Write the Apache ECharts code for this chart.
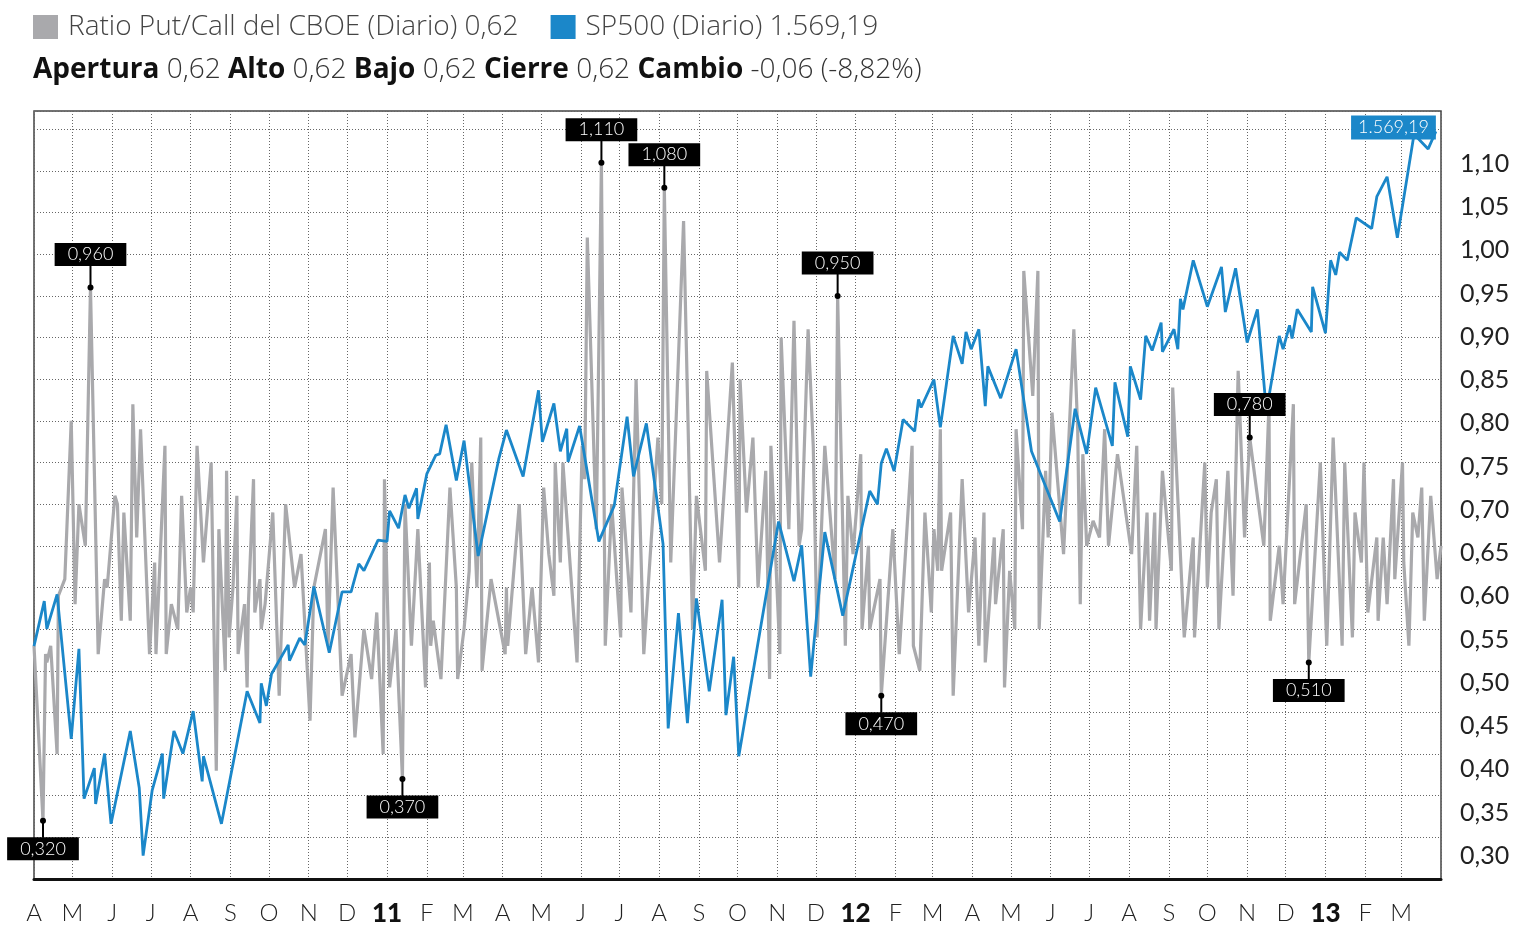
<!DOCTYPE html>
<html>
<head>
<meta charset="utf-8">
<script src="https://cdn.jsdelivr.net/npm/echarts@6/dist/echarts.min.js"></script>
<style>
html, body { margin: 0; background: #fff; }
#chart { width: 1525px; height: 927px; }
</style>
</head>
<body>
<div id="chart"></div>
<script>
// dias contados desde el 1 de abril de 2010
const inicio = new Date(2010, 3, 1).getTime();
const fin = new Date(2013, 3, 1).getTime();
const DIA = 86400000;

const mesesIniciales = ['E', 'F', 'M', 'A', 'M', 'J', 'J', 'A', 'S', 'O', 'N', 'D'];

// Ratio Put/Call del CBOE
const pcDias = [0, 7, 9, 10, 13, 18, 19, 24, 29, 32, 35, 40, 44, 50, 55, 57, 63, 65, 68, 70,
	75, 77, 80, 83, 90, 94, 95, 102, 103, 107, 112, 115, 119, 122, 124, 127, 132, 138, 142, 144,
	149, 150, 152, 155, 158, 159, 164, 166, 167, 171, 172, 176, 177, 180, 186, 191, 196, 203, 208, 215,
	218, 227, 229, 233, 240, 247, 250, 257, 263, 267, 272, 273, 277, 282, 287, 289, 294, 299, 305, 308,
	309, 311, 317, 324, 329, 330, 335, 339, 341, 345, 348, 349, 356, 367, 368, 369, 378, 383, 388, 393,
	397, 401, 405, 406, 410, 412, 423, 427, 429, 431, 438, 442, 445, 450, 457, 458, 465, 469, 475, 486,
	489, 491, 496, 506, 513, 516, 523, 524, 534, 544, 549, 550, 555, 560, 564, 570, 573, 574, 581, 582,
	588, 592, 596, 598, 603, 607, 610, 616, 624, 626, 632, 634, 638, 644, 645, 650, 651, 659, 660, 669,
	674, 684, 685, 690, 694, 699, 701, 704, 706, 707, 714, 716, 723, 728, 733, 736, 740, 741, 748, 749,
	755, 756, 760, 764, 765, 770, 771, 778, 782, 783, 788, 790, 793, 802, 810, 813, 815, 817, 820, 825,
	830, 834, 837, 844, 855, 859, 862, 867, 869, 873, 874, 879, 886, 887, 896, 903, 904, 912, 914, 917,
	921, 923, 930, 934, 938, 943, 947, 958, 962, 963, 970, 973, 981, 982, 991, 993, 1002, 1007, 1012, 1019,
	1021, 1027, 1029, 1034, 1036, 1039, 1046, 1047, 1051, 1054, 1059, 1060, 1066, 1067, 1071, 1074, 1078, 1081, 1083, 1088,
	1093, 1096];
const pcValores = [0.53, 0.32, 0.52, 0.51, 0.53, 0.40, 0.59, 0.61, 0.80, 0.58, 0.70, 0.65, 0.96, 0.52, 0.61, 0.60, 0.71, 0.70, 0.56, 0.69,
	0.56, 0.82, 0.66, 0.79, 0.52, 0.63, 0.52, 0.77, 0.52, 0.58, 0.55, 0.71, 0.57, 0.60, 0.57, 0.77, 0.63, 0.75, 0.38, 0.67,
	0.50, 0.74, 0.54, 0.60, 0.71, 0.52, 0.58, 0.48, 0.58, 0.73, 0.57, 0.61, 0.55, 0.58, 0.69, 0.47, 0.70, 0.60, 0.64, 0.44,
	0.60, 0.67, 0.53, 0.72, 0.47, 0.52, 0.42, 0.55, 0.49, 0.57, 0.40, 0.73, 0.48, 0.55, 0.37, 0.70, 0.53, 0.67, 0.48, 0.63,
	0.53, 0.56, 0.49, 0.72, 0.60, 0.49, 0.55, 0.62, 0.75, 0.60, 0.78, 0.50, 0.61, 0.52, 0.60, 0.53, 0.70, 0.52, 0.60, 0.51,
	0.72, 0.64, 0.59, 0.75, 0.63, 0.75, 0.51, 0.77, 0.73, 1.02, 0.67, 1.11, 0.53, 0.70, 0.54, 0.72, 0.57, 0.85, 0.52, 0.78,
	0.70, 1.08, 0.63, 1.04, 0.55, 0.71, 0.62, 0.86, 0.63, 0.87, 0.60, 0.85, 0.69, 0.78, 0.60, 0.74, 0.49, 0.77, 0.52, 0.90,
	0.67, 0.92, 0.65, 0.67, 0.91, 0.77, 0.54, 0.77, 0.61, 0.95, 0.53, 0.71, 0.64, 0.76, 0.55, 0.65, 0.55, 0.61, 0.47, 0.67,
	0.52, 0.77, 0.53, 0.50, 0.69, 0.57, 0.67, 0.62, 0.79, 0.62, 0.69, 0.47, 0.73, 0.57, 0.66, 0.53, 0.69, 0.51, 0.66, 0.58,
	0.67, 0.48, 0.62, 0.55, 0.79, 0.67, 0.98, 0.83, 0.98, 0.55, 0.74, 0.66, 0.81, 0.64, 0.91, 0.79, 0.58, 0.76, 0.65, 0.68,
	0.66, 0.79, 0.65, 0.76, 0.64, 0.77, 0.55, 0.69, 0.56, 0.69, 0.55, 0.74, 0.62, 0.84, 0.54, 0.66, 0.54, 0.75, 0.60, 0.69,
	0.73, 0.55, 0.74, 0.59, 0.86, 0.66, 0.78, 0.65, 0.82, 0.56, 0.65, 0.58, 0.82, 0.58, 0.70, 0.51, 0.75, 0.53, 0.78, 0.53,
	0.75, 0.54, 0.69, 0.63, 0.75, 0.57, 0.66, 0.56, 0.66, 0.58, 0.73, 0.61, 0.75, 0.63, 0.53, 0.69, 0.66, 0.72, 0.56, 0.71,
	0.61, 0.65];

// SP500
const spDias = [0, 8, 10, 18, 29, 35, 39, 47, 48, 55, 60, 75, 82, 85, 92, 100, 101, 109, 116, 124,
	131, 132, 146, 166, 176, 177, 181, 185, 198, 199, 207, 211, 218, 230, 240, 247, 253, 257, 268, 275,
	277, 284, 289, 292, 298, 299, 306, 313, 316, 321, 329, 335, 346, 362, 368, 381, 393, 396, 405, 410,
	415, 416, 425, 440, 452, 462, 467, 477, 490, 494, 502, 509, 516, 526, 536, 539, 545, 549, 580, 592,
	598, 605, 616, 630, 651, 657, 660, 664, 670, 677, 686, 689, 691, 701, 706, 716, 723, 726, 730, 736,
	741, 743, 753, 765, 777, 799, 811, 820, 827, 840, 842, 852, 854, 862, 866, 871, 878, 879, 888, 891,
	893, 895, 903, 914, 925, 928, 936, 945, 953, 960, 970, 973, 978, 980, 984, 995, 996, 1006, 1010, 1014,
	1017, 1023, 1030, 1042, 1046, 1054, 1062, 1075, 1086, 1092];
const spValores = [1181, 1215, 1194, 1220, 1111, 1179, 1066, 1089, 1062, 1100, 1047, 1117, 1074, 1023, 1072, 1100, 1066, 1117, 1100, 1132,
	1079, 1098, 1047, 1147, 1123, 1153, 1136, 1160, 1182, 1170, 1187, 1182, 1226, 1176, 1222, 1222, 1243, 1238, 1261, 1260,
	1283, 1270, 1295, 1285, 1300, 1277, 1311, 1325, 1326, 1348, 1306, 1336, 1249, 1322, 1344, 1309, 1374, 1335, 1364, 1328,
	1345, 1320, 1347, 1260, 1287, 1354, 1309, 1349, 1258, 1119, 1206, 1123, 1217, 1147, 1216, 1129, 1173, 1098, 1275, 1230,
	1257, 1158, 1267, 1204, 1298, 1288, 1319, 1330, 1313, 1352, 1343, 1367, 1361, 1382, 1346, 1415, 1394, 1418, 1405, 1420,
	1362, 1392, 1368, 1405, 1328, 1275, 1360, 1326, 1376, 1332, 1380, 1339, 1392, 1367, 1415, 1404, 1425, 1403, 1420, 1405,
	1443, 1435, 1472, 1437, 1467, 1433, 1466, 1410, 1435, 1358, 1415, 1405, 1423, 1413, 1435, 1418, 1452, 1417, 1472, 1461,
	1478, 1472, 1504, 1496, 1520, 1535, 1489, 1567, 1556, 1569.19];

// puntos destacados del ratio
const marcasDias = [7, 44, 287, 442, 491, 626, 660, 947, 993];

const ticksDerecha = [0.30, 0.35, 0.40, 0.45, 0.50, 0.55, 0.60, 0.65, 0.70, 0.75, 0.80, 0.85, 0.90, 0.95, 1.00, 1.05, 1.10];

const ultimoPC = '0,62';
const ultimoSP = '1.569,19';
const resumenEtiquetas = ['Apertura', 'Alto', 'Bajo', 'Cierre', 'Cambio'];
const resumenValores = ['0,62', '0,62', '0,62', '0,62', '-0,06 (-8,82%)'];

const NOMBRE_PC = 'Ratio Put/Call del CBOE (Diario)';
const NOMBRE_SP = 'SP500 (Diario)';
const GRIS = '#a9a9ac';
const AZUL = '#1b87c9';
const FUENTE = 'Lato, "Open Sans", sans-serif';
const FUENTE_CAB = '"Open Sans", Lato, sans-serif';

function coma(v, dec) {
	return v.toFixed(dec).replace('.', ',');
}

function miles(v) {
	const partes = v.toFixed(2).split('.');
	return partes[0].replace(/\B(?=(\d{3})+(?!\d))/g, '.') + ',' + partes[1];
}

const pcSerie = pcDias.map((d, i) => [inicio + d * DIA, pcValores[i]]);
const spSerie = spDias.map((d, i) => [inicio + d * DIA, spValores[i]]);

const marcas = marcasDias.map((d) => {
	const i = pcDias.indexOf(d);
	const v = pcValores[i];
	const arriba = v > pcValores[i - 1] ? 1 : -1;
	return [inicio + d * DIA, v, arriba];
});

const ultimoIdx = spDias.length - 1;
const spFinal = [[inicio + spDias[ultimoIdx] * DIA, spValores[ultimoIdx]]];

const resumen = resumenEtiquetas.map((t, i) => '{b|' + t + '} {n|' + resumenValores[i] + '}').join('{n| }');

const chart = echarts.init(document.getElementById('chart'));

const option = {
	animation: false,
	backgroundColor: '#fff',
	textStyle: { fontFamily: FUENTE },
	title: {
		left: 33,
		top: 56,
		padding: 0,
		text: resumen,
		textStyle: {
			fontSize: 28,
			fontFamily: FUENTE_CAB,
			rich: {
				b: { fontSize: 28, fontWeight: 'bold', color: '#111', fontFamily: FUENTE_CAB },
				n: { fontSize: 28, fontWeight: 300, color: '#333', fontFamily: FUENTE_CAB }
			}
		}
	},
	legend: {
		left: 33,
		top: 13,
		padding: 0,
		icon: 'rect',
		itemWidth: 25,
		itemHeight: 24,
		itemGap: 32,
		selectedMode: false,
		data: [NOMBRE_PC, NOMBRE_SP],
		formatter: (name) => name + ' ' + (name === NOMBRE_PC ? ultimoPC : ultimoSP),
		textStyle: {
			fontSize: 28,
			fontWeight: 300,
			color: '#444',
			fontFamily: FUENTE_CAB,
			padding: [0, 0, 0, 5]
		}
	},
	grid: [
		{ left: 34, right: 84, top: 111, height: 776, show: true, borderColor: '#444', borderWidth: 1.5 },
		{ left: 34, right: 84, top: 112, height: 787 }
	],
	xAxis: [
		{
			type: 'time',
			gridIndex: 0,
			min: inicio,
			max: fin,
			splitNumber: 36,
			minInterval: 28 * DIA,
			maxInterval: 31 * DIA,
			axisLine: { lineStyle: { color: '#111', width: 3 } },
			axisTick: { show: false },
			axisLabel: {
				margin: 22,
				hideOverlap: false,
				fontSize: 24,
				fontWeight: 300,
				color: '#222',
				fontFamily: FUENTE,
				formatter: (value) => {
					if (value >= fin) return '';
					const f = new Date(value);
					const m = f.getMonth();
					if (m === 0) return '{y|' + String(f.getFullYear()).slice(2) + '}';
					return mesesIniciales[m];
				},
				rich: {
					y: { fontSize: 26, fontWeight: 900, color: '#111', fontFamily: FUENTE }
				}
			},
			splitLine: { show: true, lineStyle: { color: '#666', width: 1, type: [1, 2] } }
		},
		{ type: 'value', gridIndex: 1, show: false, min: 0, max: 1 }
	],
	yAxis: [
		{
			type: 'value',
			gridIndex: 0,
			position: 'right',
			min: 0.25,
			max: 1.172,
			interval: 0.05,
			axisLine: { show: false },
			axisTick: { show: false },
			axisLabel: { show: false },
			splitLine: { show: true, lineStyle: { color: '#666', width: 1, type: [1, 2] } }
		},
		{
			type: 'value',
			gridIndex: 0,
			min: 1005.4,
			max: 1584.6,
			show: false,
			splitLine: { show: false }
		},
		{
			type: 'value',
			gridIndex: 1,
			position: 'right',
			min: 0.25,
			max: 1.16,
			interval: 0.05,
			axisLine: { show: false },
			axisTick: { show: false },
			splitLine: { show: false },
			axisLabel: {
				margin: 19,
				fontSize: 25,
				color: '#222',
				fontFamily: FUENTE,
				formatter: (v) => {
					const hit = ticksDerecha.find((t) => Math.abs(t - v) < 1e-6);
					return hit === undefined ? '' : coma(hit, 2);
				}
			}
		}
	],
	series: [
		{
			name: NOMBRE_PC,
			type: 'line',
			xAxisIndex: 0,
			yAxisIndex: 0,
			data: pcSerie,
			showSymbol: false,
			symbol: 'none',
			color: GRIS,
			lineStyle: { color: GRIS, width: 3.2 },
			z: 2
		},
		{
			name: NOMBRE_SP,
			type: 'line',
			xAxisIndex: 0,
			yAxisIndex: 1,
			data: spSerie,
			showSymbol: false,
			symbol: 'none',
			color: AZUL,
			lineStyle: { color: AZUL, width: 2.8 },
			z: 3
		},
		{
			type: 'custom',
			xAxisIndex: 0,
			yAxisIndex: 0,
			data: marcas,
			z: 5,
			encode: { x: 0, y: 1 },
			renderItem: (params, api) => {
				const p = api.coord([api.value(0), api.value(1)]);
				const arriba = api.value(2) > 0;
				const punta = arriba ? Math.max(p[1] - 22, 136) : p[1] + 17;
				const cy = arriba ? punta - 11 : punta + 11;
				return {
					type: 'group',
					children: [
						{ type: 'line', shape: { x1: p[0], y1: p[1], x2: p[0], y2: punta }, style: { stroke: '#000', lineWidth: 2 } },
						{ type: 'circle', shape: { cx: p[0], cy: p[1], r: 3 }, style: { fill: '#000' } },
						{
							type: 'text',
							x: p[0],
							y: cy,
							style: {
								text: coma(api.value(1), 3),
								fill: '#fff',
								backgroundColor: '#000',
								padding: [3, 13, 2, 13],
								font: '300 18px ' + FUENTE,
								align: 'center',
								verticalAlign: 'middle'
							}
						}
					]
				};
			}
		},
		{
			type: 'custom',
			xAxisIndex: 0,
			yAxisIndex: 1,
			data: spFinal,
			z: 6,
			encode: { x: 0, y: 1 },
			renderItem: (params, api) => {
				const p = api.coord([api.value(0), api.value(1)]);
				return {
					type: 'text',
					x: p[0],
					y: p[1] - 4,
					style: {
						text: miles(api.value(1)),
						fill: '#fff',
						backgroundColor: AZUL,
						padding: [3, 7, 3, 7],
						font: '300 18px ' + FUENTE,
						align: 'right',
						verticalAlign: 'middle'
					}
				};
			}
		}
	]
};

chart.setOption(option);
</script>
</body>
</html>
